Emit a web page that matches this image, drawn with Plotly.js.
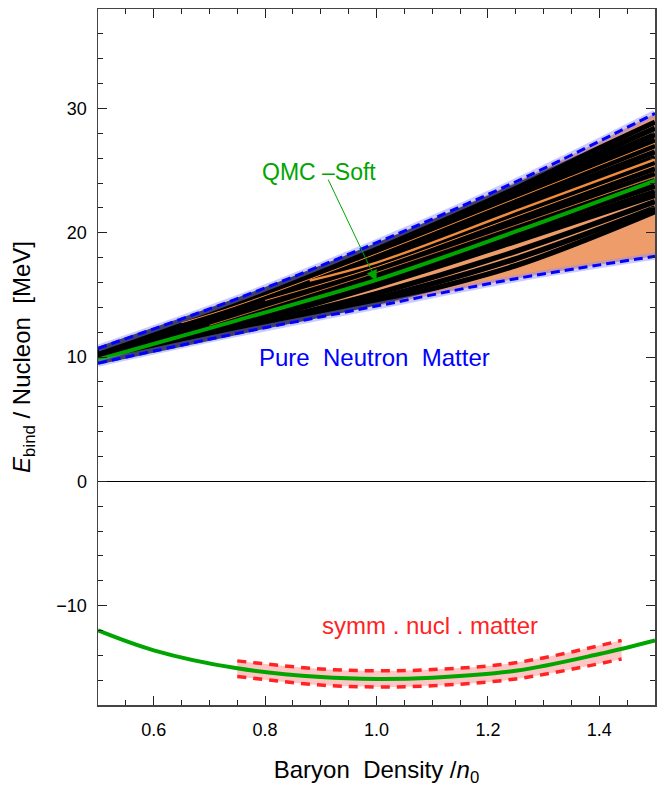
<!DOCTYPE html>
<html>
<head>
<meta charset="utf-8">
<script src="https://cdn.plot.ly/plotly-3.0.1.min.js"></script>
<style>html,body{margin:0;padding:0;background:#fff;}#chart{width:665px;height:787px;}</style>
</head>
<body>
<div id="chart"></div>
<script>
// ---- Data ----
var nPNM = [0.5, 0.75, 1.0, 1.25, 1.5];
var pnmUpper = [10.7, 14.7, 19.2, 24.1, 29.6];
var pnmLower = [9.5, 11.9, 14.1, 16.3, 18.1];
var qmcSoftPNM = [9.8, 12.95, 16.2, 20.1, 24.2];

// Black EOS curves (values at nPNM)
var blackCurves = [
  [10.6, 14.55, 18.95, 23.75, 28.9],
  [10.55, 14.45, 18.75, 23.45, 28.4],
  [10.5, 14.3, 18.55, 23.15, 27.9],
  [10.45, 14.2, 18.35, 22.85, 27.45],
  [10.4, 14.05, 18.15, 22.55, 27.0],
  [10.35, 13.95, 17.95, 22.2, 26.5],
  [10.3, 13.8, 17.7, 21.9, 26.05],
  [10.2, 13.65, 17.45, 21.55, 25.6],
  [10.15, 13.5, 17.2, 21.2, 25.15],
  [10.1, 13.35, 16.95, 20.85, 24.7],
  [10.0, 13.15, 16.65, 20.45, 24.2],
  [9.9, 12.95, 16.35, 20.05, 23.75],
  [9.8, 12.75, 16.05, 19.65, 23.3],
  [9.75, 12.55, 15.75, 19.3, 23.0],
  [9.7, 12.3, 15.1, 18.5, 22.5],
  [9.65, 12.1, 14.7, 17.9, 22.0],
  [9.6, 12.0, 14.4, 17.35, 21.7]
];
// Orange EOS curves drawn over the black ones
var orangeX = [
  [0.65, 0.75, 1.0, 1.25, 1.5],
  [0.88, 1.0, 1.25, 1.5],
  [0.7, 0.75, 1.0, 1.25, 1.5],
  [0.8, 1.0, 1.25, 1.5]
];
var orangeY = [
  [12.75, 14.15, 18.3, 22.75, 27.2],
  [16.15, 17.6, 21.75, 25.9],
  [12.55, 13.25, 16.8, 20.6, 24.5],
  [14.55, 17.25, 21.3, 25.4]
];
var orangeWidths = [1.0, 2.4, 0.8, 1.0];

// Symmetric nuclear matter
var nSNMqmc = [0.5, 0.6, 0.75, 0.9, 1.0, 1.1, 1.25, 1.4, 1.5];
var qmcSoftSNM = [-12.0, -13.6, -15.05, -15.75, -15.9, -15.8, -15.25, -13.9, -12.8];
var nSNMband = [0.75, 0.9, 1.0, 1.1, 1.25, 1.44];
var snmUpper = [-14.45, -15.1, -15.25, -15.15, -14.6, -12.8];
var snmLower = [-15.7, -16.4, -16.55, -16.45, -15.9, -14.3];

var xTicks = [0.6, 0.8, 1.0, 1.2, 1.4];
var yTicks = [-10, 0, 10, 20, 30];

// ---- Traces ----
var GREEN = 'rgb(0,165,0)';
var BLUE = 'rgb(0,0,255)';
var RED = 'rgb(255,35,35)';
var traces = [];

traces.push({x: nPNM, y: pnmLower, mode: 'lines', line: {width: 0, shape: 'spline'}, hoverinfo: 'skip'});
traces.push({x: nPNM, y: pnmUpper, mode: 'lines', fill: 'tonexty', fillcolor: 'rgb(238,156,106)',
  line: {width: 0, shape: 'spline'}, hoverinfo: 'skip'});

blackCurves.forEach(function (c) {
  traces.push({x: nPNM, y: c, mode: 'lines', line: {color: 'black', width: 5.4, shape: 'spline'}, hoverinfo: 'skip'});
});
orangeY.forEach(function (c, i) {
  traces.push({x: orangeX[i], y: c, mode: 'lines', line: {color: 'rgb(240,140,60)', width: orangeWidths[i], shape: 'spline'}, hoverinfo: 'skip'});
});

traces.push({x: nPNM, y: qmcSoftPNM, mode: 'lines', line: {color: GREEN, width: 4, shape: 'spline'}});

[pnmUpper, pnmLower].forEach(function (c) {
  traces.push({x: nPNM, y: c, mode: 'lines', line: {color: 'rgba(140,140,255,0.45)', width: 7, shape: 'spline'}, hoverinfo: 'skip'});
  traces.push({x: nPNM, y: c, mode: 'lines', line: {color: BLUE, width: 3, dash: '9px,5px', shape: 'spline'}, hoverinfo: 'skip'});
});

traces.push({x: nSNMband, y: snmLower, mode: 'lines', line: {width: 0, shape: 'spline'}, hoverinfo: 'skip'});
traces.push({x: nSNMband, y: snmUpper, mode: 'lines', fill: 'tonexty', fillcolor: 'rgba(255,160,160,0.6)',
  line: {width: 0, shape: 'spline'}, hoverinfo: 'skip'});
[snmUpper, snmLower].forEach(function (c) {
  traces.push({x: nSNMband, y: c, mode: 'lines', line: {color: RED, width: 3.5, dash: '9px,7px', shape: 'spline'}, hoverinfo: 'skip'});
});
traces.push({x: nSNMqmc, y: qmcSoftSNM, mode: 'lines', line: {color: GREEN, width: 4, shape: 'spline'}});

var FONT = 'Liberation Sans, Arial, Helvetica, sans-serif';

var layout = {
  width: 665, height: 787,
  margin: {l: 98, r: 10, t: 9, b: 82},
  paper_bgcolor: 'white', plot_bgcolor: 'white',
  showlegend: false,
  font: {family: FONT, size: 18, color: 'black'},
  xaxis: {
    range: [0.5, 1.5], tickvals: xTicks, tickformat: '.1f',
    ticks: 'inside', ticklen: 9, tickwidth: 1, tickcolor: '#222',
    minor: {dtick: 0.05, tick0: 0.5, ticks: 'inside', ticklen: 5, tickwidth: 1, tickcolor: '#222'},
    showline: true, linecolor: '#444', linewidth: 1.5, mirror: 'ticks',
    showgrid: false, zeroline: false,
    ticklabelstandoff: 8,
    tickfont: {family: FONT, size: 18, color: 'black'},
    title: {text: 'Baryon  Density /<i>n</i><sub>0</sub>', font: {family: FONT, size: 24, color: 'black'}, standoff: 22}
  },
  yaxis: {
    range: [-18, 38], tickvals: yTicks,
    ticks: 'inside', ticklen: 9, tickwidth: 1, tickcolor: '#222',
    minor: {dtick: 2, tick0: 0, ticks: 'inside', ticklen: 5, tickwidth: 1, tickcolor: '#222'},
    showline: true, linecolor: '#444', linewidth: 1.5, mirror: 'ticks',
    showgrid: false,
    zeroline: true, zerolinecolor: 'black', zerolinewidth: 1,
    ticklabelstandoff: 6,
    tickfont: {family: FONT, size: 18, color: 'black'},
    title: {text: '<i>E</i><sub>bind</sub> / Nucleon  [MeV]', font: {family: FONT, size: 24, color: 'black'}, standoff: 19}
  },
  annotations: [
    {x: 0.897, y: 24.9, xref: 'x', yref: 'y', text: 'QMC \u2013Soft', showarrow: false,
      font: {family: FONT, size: 23, color: GREEN}},
    {x: 1.0, y: 16.1, xref: 'x', yref: 'y', ax: 0.912, ay: 24.4, axref: 'x', ayref: 'y', text: '',
      showarrow: true, arrowhead: 2, arrowsize: 2.2, arrowwidth: 1, arrowcolor: GREEN},
    {x: 0.996, y: 10.0, xref: 'x', yref: 'y', text: 'Pure\u00a0\u00a0Neutron\u00a0\u00a0Matter', showarrow: false,
      font: {family: FONT, size: 24, color: BLUE}},
    {x: 1.096, y: -11.64, xref: 'x', yref: 'y', text: 'symm . nucl . matter', showarrow: false,
      font: {family: FONT, size: 24, color: RED}}
  ]
};

Plotly.newPlot('chart', traces, layout, {displayModeBar: false, staticPlot: true});
</script>
</body>
</html>
